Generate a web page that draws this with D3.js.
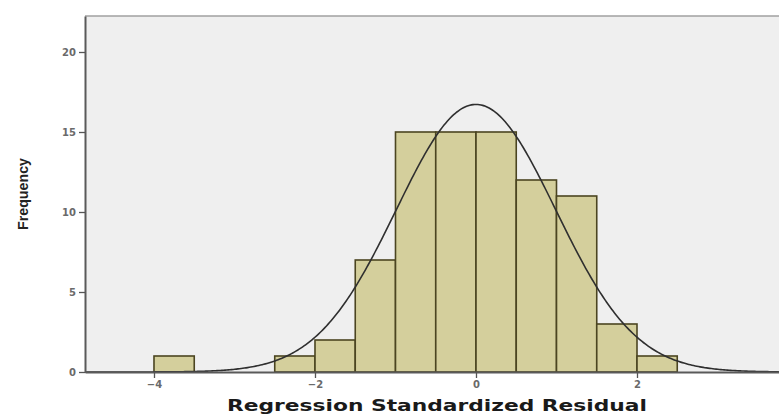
<!doctype html>
<html lang="en">
<head>
<meta charset="UTF-8">
<title>Histogram</title>
<script src="https://d3js.org/d3.v7.min.js"></script>
<style>
  body { margin: 0; background: #fff; }
</style>
</head>
<body>
<div id="chart-area"></div>
<script>

// histogram bins (width 0.5) and their counts
const binStarts = [-4, -2.5, -2, -1.5, -1, -0.5, 0, 0.5, 1, 1.5, 2];
const counts    = [ 1,    1,  2,    7, 15,   15, 15,  12, 11,   3, 1];
const binWidth = 0.5;

const xTicks = [-4, -2, 0, 2];
const yTicks = [0, 5, 10, 15, 20];

// fitted normal curve
const resMean = 0;
const resSD = 0.99;

const W = 779, H = 414;
const margin = { top: 16, right: 0, bottom: 42, left: 85 };

const svg = d3.select('#chart-area')
    .append('svg')
    .attr('width', W)
    .attr('height', H);

const x = d3.scaleLinear()
    .domain([-4.857, 3.764])
    .range([margin.left, W - margin.right]);

const y = d3.scaleLinear()
    .domain([0, 22.25])
    .range([H - margin.bottom, margin.top]);

// plot background
svg.append('rect')
    .attr('x', margin.left)
    .attr('y', margin.top)
    .attr('width', W - margin.right - margin.left)
    .attr('height', H - margin.bottom - margin.top)
    .attr('fill', '#efefef');

// bars
svg.append('g')
    .selectAll('rect')
    .data(binStarts)
    .enter()
    .append('rect')
        .attr('x', d => x(d))
        .attr('y', (d, i) => y(counts[i]))
        .attr('width', d => x(d + binWidth) - x(d))
        .attr('height', (d, i) => y(0) - y(counts[i]))
        .attr('fill', '#d4cf9c')
        .attr('stroke', '#4b4521')
        .attr('stroke-width', 1.6);

// normal curve
const n = d3.sum(counts);
const dens = v => n * binWidth / (resSD * Math.sqrt(2 * Math.PI)) *
    Math.exp(-0.5 * Math.pow((v - resMean) / resSD, 2));

const curveX = d3.range(x.domain()[0], x.domain()[1] + 0.001, 0.02);
svg.append('path')
    .datum(curveX)
    .attr('fill', 'none')
    .attr('stroke', '#2f2f2f')
    .attr('stroke-width', 1.6)
    .attr('d', d3.line().x(d => x(d)).y(d => y(dens(d))));

// frame line at top
svg.append('line')
    .attr('x1', margin.left).attr('x2', W)
    .attr('y1', margin.top).attr('y2', margin.top)
    .attr('stroke', '#a0a0a0').attr('stroke-width', 1.5);

// axes
const yAxis = svg.append('g')
    .attr('transform', `translate(${margin.left},0)`)
    .call(d3.axisLeft(y).tickValues(yTicks).tickSize(6).tickSizeOuter(0).tickPadding(3));

const xAxis = svg.append('g')
    .attr('transform', `translate(0,${H - margin.bottom})`)
    .call(d3.axisBottom(x).tickValues(xTicks).tickSize(6).tickSizeOuter(0).tickPadding(3));

[yAxis, xAxis].forEach(a => {
    a.select('.domain').attr('stroke', '#5a5a5a').attr('stroke-width', 2);
    a.selectAll('.tick line').attr('stroke', '#555').attr('stroke-width', 1.3);
    a.selectAll('.tick text')
        .attr('fill', '#6a6a6a')
        .style('font-family', 'DejaVu Sans, sans-serif')
        .style('font-size', '10px')
        .style('font-weight', 'bold');
});

// axis titles
svg.append('text')
    .attr('transform', `translate(28,194) rotate(-90)`)
    .attr('text-anchor', 'middle')
    .attr('textLength', 72)
    .attr('lengthAdjust', 'spacingAndGlyphs')
    .style('font-family', 'Liberation Sans Narrow, Liberation Sans, sans-serif')
    .style('font-size', '14px')
    .style('font-weight', 'bold')
    .attr('fill', '#222')
    .text('Frequency');

svg.append('text')
    .attr('x', 437)
    .attr('y', 411)
    .attr('text-anchor', 'middle')
    .attr('textLength', 420)
    .attr('lengthAdjust', 'spacingAndGlyphs')
    .style('font-family', 'DejaVu Sans, sans-serif')
    .style('font-size', '16px')
    .style('font-weight', 'bold')
    .attr('fill', '#1a1a1a')
    .text('Regression Standardized Residual');

</script>
</body>
</html>
